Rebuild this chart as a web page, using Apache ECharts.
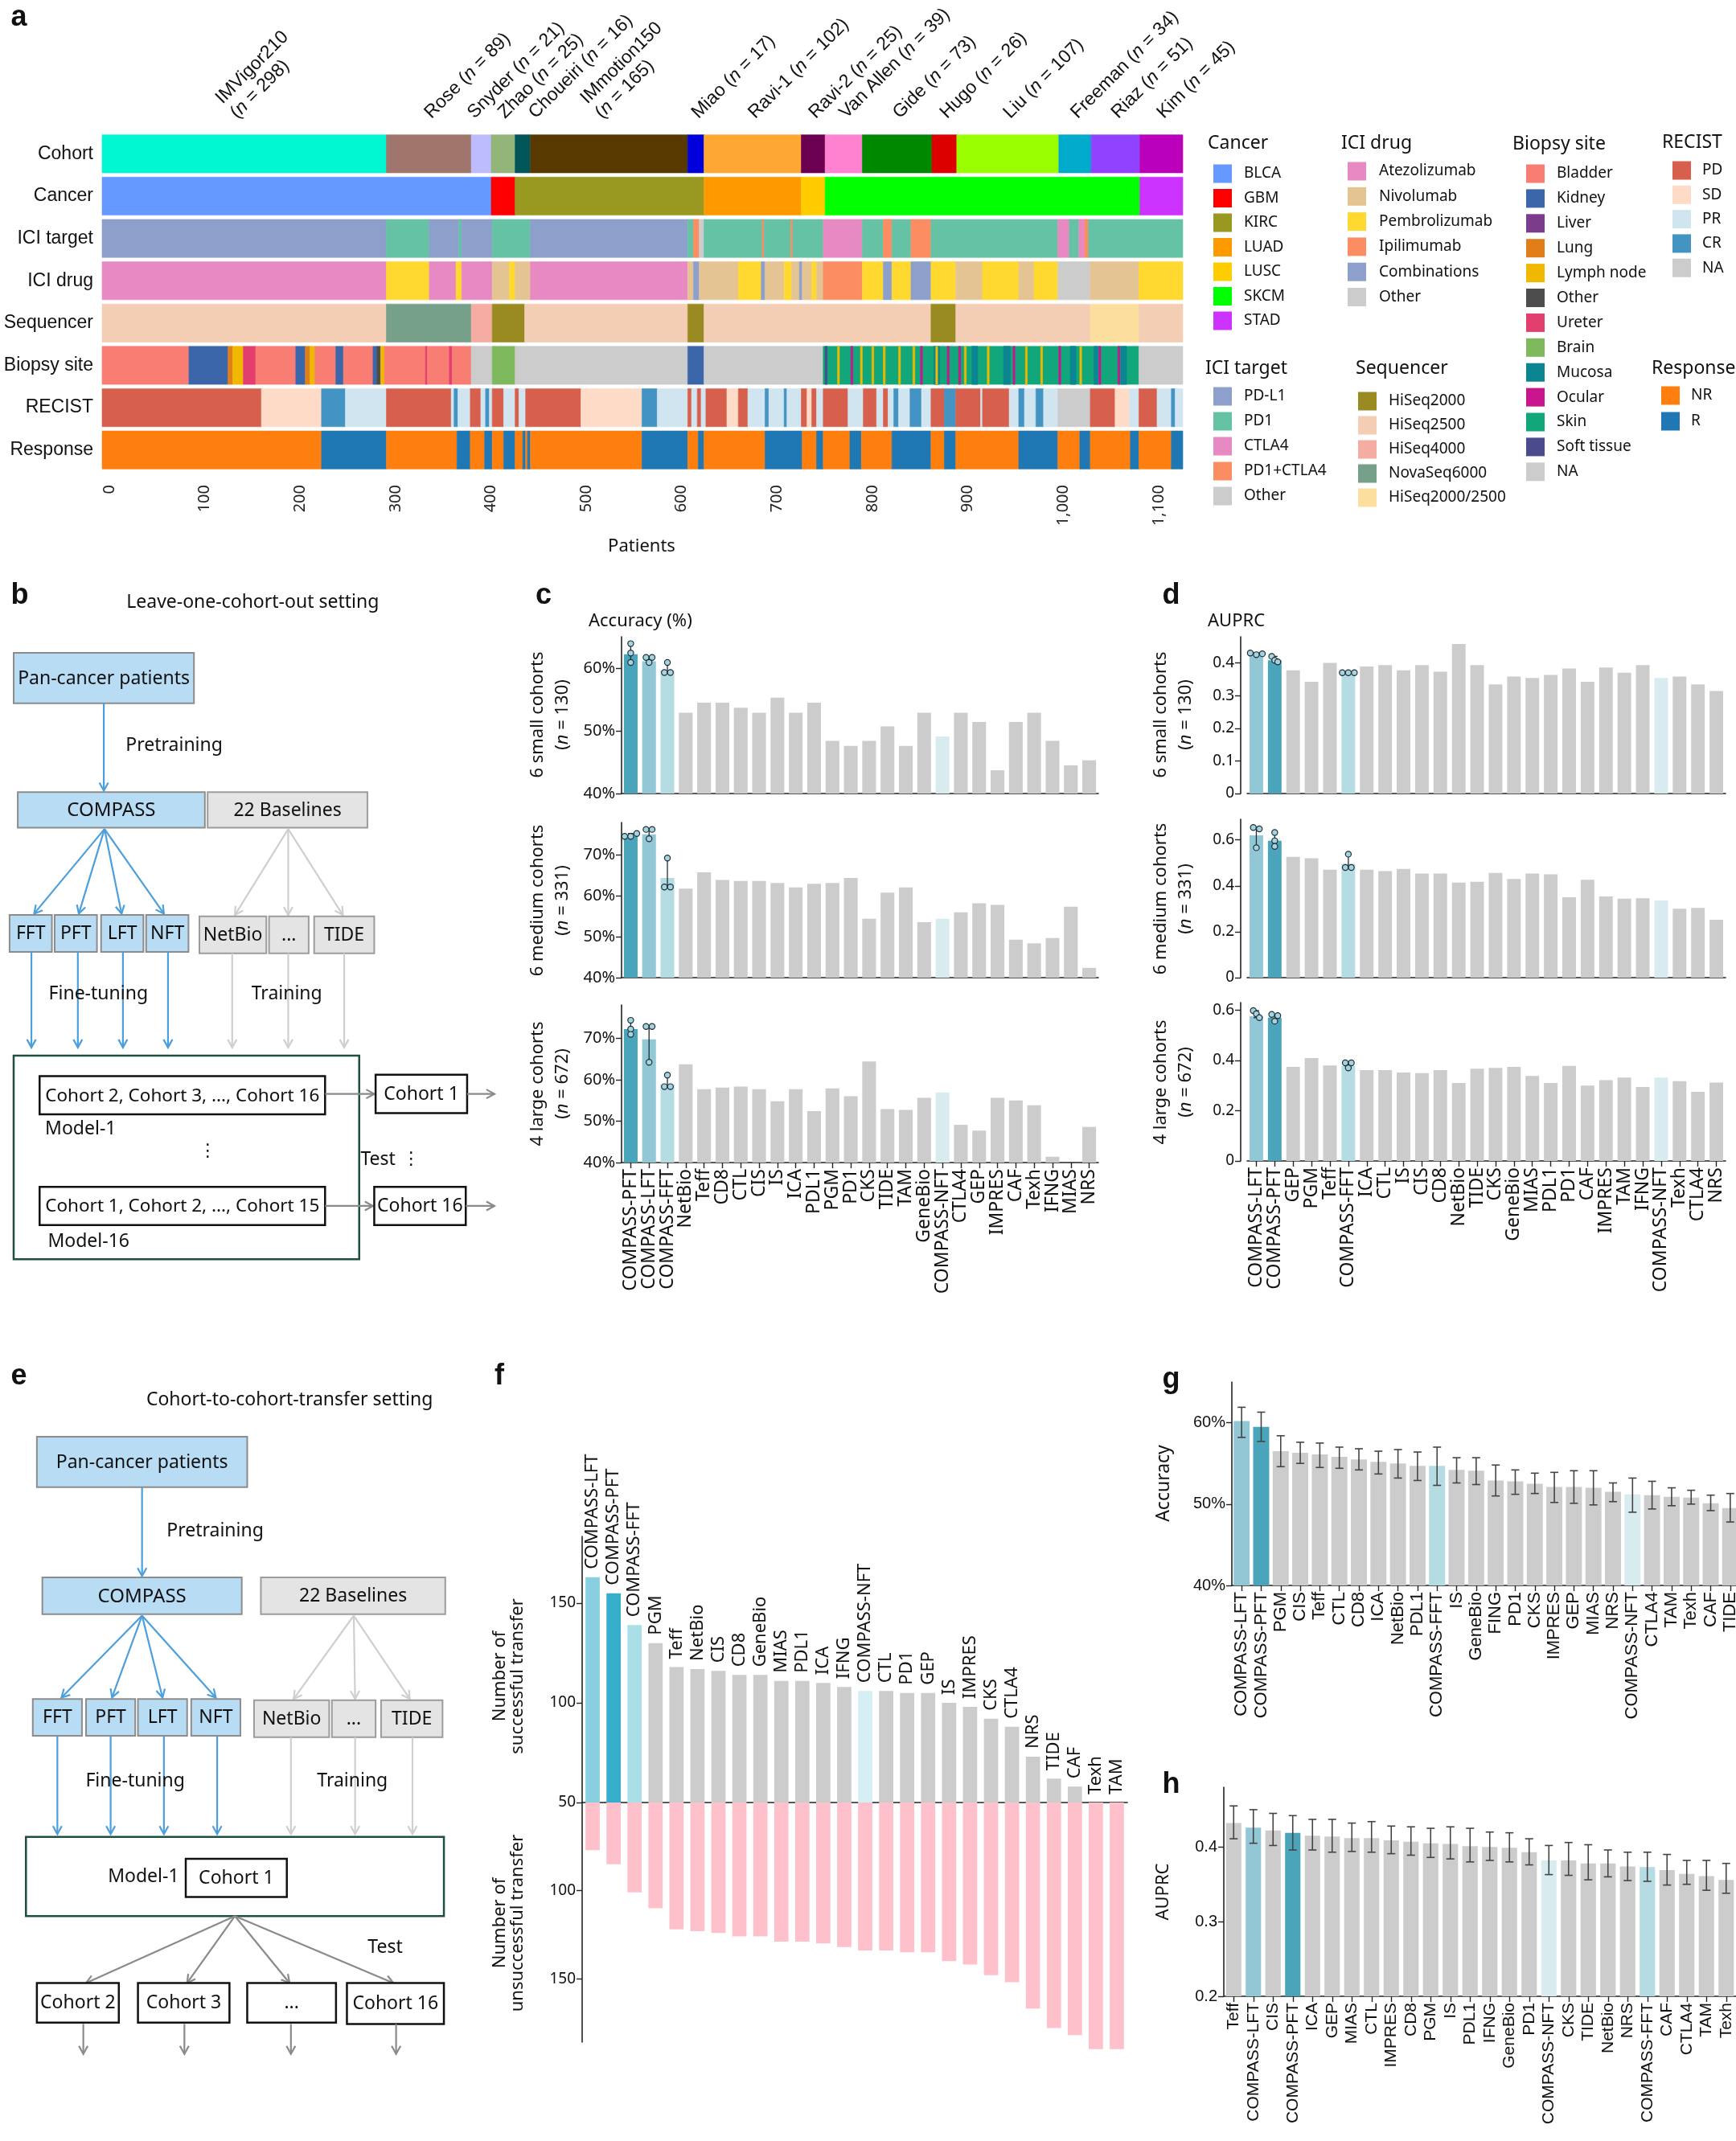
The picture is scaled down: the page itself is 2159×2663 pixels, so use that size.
<!DOCTYPE html>
<html><head><meta charset="utf-8"><title>COMPASS figure</title>
<script src="https://cdn.jsdelivr.net/npm/echarts@6/dist/echarts.min.js"></script>
<style>html,body{margin:0;padding:0;background:#fff;}#chart{width:2159px;height:2663px;}</style>
</head><body><div id="chart"></div>
<script>
// ================= DATA =================
const heatRows = ['Cohort','Cancer','ICI target','ICI drug','Sequencer','Biopsy site','RECIST','Response'];
const cohortNames = ['IMVigor210','Rose','Snyder','Zhao','Choueiri','IMmotion150','Miao','Ravi-1','Ravi-2','Van Allen','Gide','Hugo','Liu','Freeman','Riaz','Kim'];
const cohortSizes = [298,89,21,25,16,165,17,102,25,39,73,26,107,34,51,45];
const patientTicks = [0,100,200,300,400,500,600,700,800,900,1000,1100];

const cancerTypes = ['BLCA','GBM','KIRC','LUAD','LUSC','SKCM','STAD'];
const targetTypes = ['PD-L1','PD1','CTLA4','PD1+CTLA4','Other'];
const drugTypes = ['Atezolizumab','Nivolumab','Pembrolizumab','Ipilimumab','Combinations','Other'];
const seqTypes = ['HiSeq2000','HiSeq2500','HiSeq4000','NovaSeq6000','HiSeq2000/2500'];
const biopsyTypes = ['Bladder','Kidney','Liver','Lung','Lymph node','Other','Ureter','Brain','Mucosa','Ocular','Skin','Soft tissue','NA'];
const recistTypes = ['PD','SD','PR','CR','NA'];
const responseTypes = ['NR','R'];

// segments: [start patient, end patient, category]
const cancerSegs = [[0,408,'BLCA'],[408,433,'GBM'],[433,631,'KIRC'],[631,733,'LUAD'],[733,758,'LUSC'],[758,1088,'SKCM'],[1088,1133,'STAD']];
const targetSegs = [[0,298,'PD-L1'],[298,343,'PD1'],[343,374,'PD-L1'],[374,377,'PD1'],[377,409,'PD-L1'],[409,449,'PD1'],[449,614,'PD-L1'],
 [614,620,'PD1'],[620,626,'PD1+CTLA4'],[626,631,'Other'],[631,692,'PD1'],[692,694,'PD1+CTLA4'],[694,722,'PD1'],[722,724,'PD1+CTLA4'],[724,756,'PD1'],
 [756,797,'CTLA4'],[797,819,'PD1'],[819,828,'PD1+CTLA4'],[828,848,'PD1'],[848,869,'PD1+CTLA4'],[869,1002,'PD1'],[1002,1014,'CTLA4'],[1014,1024,'PD1'],
 [1024,1030,'CTLA4'],[1030,1034,'PD1+CTLA4'],[1034,1133,'PD1']];
const drugSegs = [[0,298,'Atezolizumab'],[298,343,'Pembrolizumab'],[343,371,'Atezolizumab'],[371,377,'Pembrolizumab'],[377,409,'Atezolizumab'],
 [409,427,'Nivolumab'],[427,433,'Pembrolizumab'],[433,449,'Nivolumab'],[449,614,'Atezolizumab'],[614,620,'Nivolumab'],[620,626,'Combinations'],
 [626,667,'Nivolumab'],[667,691,'Pembrolizumab'],[691,695,'Combinations'],[695,715,'Nivolumab'],[715,723,'Pembrolizumab'],[723,731,'Nivolumab'],
 [731,734,'Combinations'],[734,744,'Nivolumab'],[744,749,'Pembrolizumab'],[749,756,'Nivolumab'],[756,797,'Ipilimumab'],[797,819,'Pembrolizumab'],
 [819,828,'Combinations'],[828,848,'Pembrolizumab'],[848,869,'Combinations'],[869,895,'Pembrolizumab'],[895,923,'Nivolumab'],[923,961,'Pembrolizumab'],
 [961,977,'Nivolumab'],[977,1002,'Pembrolizumab'],[1002,1036,'Other'],[1036,1087,'Nivolumab'],[1087,1133,'Pembrolizumab']];
const seqSegs = [[0,298,'HiSeq2500'],[298,387,'NovaSeq6000'],[387,409,'HiSeq4000'],[409,443,'HiSeq2000'],[443,614,'HiSeq2500'],[614,631,'HiSeq2000'],
 [631,869,'HiSeq2500'],[869,895,'HiSeq2000'],[895,1036,'HiSeq2500'],[1036,1087,'HiSeq2000/2500'],[1087,1133,'HiSeq2500']];
const biopsySegs = [[0,91,'Bladder'],[91,132,'Kidney'],[132,137,'Lung'],[137,148,'Lymph node'],[148,161,'Ureter'],[161,203,'Bladder'],[203,213,'Kidney'],
 [213,218,'Lung'],[218,223,'Lymph node'],[223,245,'Bladder'],[245,253,'Kidney'],[253,284,'Bladder'],[284,288,'Kidney'],[288,292,'Other'],[292,296,'Lymph node'],
 [296,339,'Bladder'],[339,341,'Ureter'],[341,364,'Bladder'],[364,367,'Ureter'],[367,387,'Bladder'],[387,409,'NA'],[409,433,'Brain'],[433,614,'NA'],
 [614,631,'Kidney'],[631,756,'NA'],[756,1087,'Skin'],[1087,1133,'NA'],
 [758,760,'Soft tissue'],[771,773,'Lymph node'],[785,787,'Ocular'],[795,797,'Lymph node'],[807,809,'Lymph node'],[819,821,'Lymph node'],[835,837,'Lymph node'],
 [850,852,'Lymph node'],[858,860,'Ocular'],[872,878,'Mucosa'],[874,876,'Lymph node'],[886,888,'Ocular'],[898,900,'Ocular'],[904,906,'Lymph node'],
 [912,918,'Mucosa'],[928,930,'Lymph node'],[945,952,'Mucosa'],[955,957,'Ocular'],[968,970,'Lymph node'],[984,986,'Lymph node'],[1003,1005,'Ocular'],
 [1015,1021,'Mucosa'],[1025,1027,'Lymph node'],[1040,1044,'Mucosa'],[1045,1047,'Ocular'],[1065,1067,'Ocular'],[1068,1074,'Mucosa']];
const recistSegs = [[0,167,'PD'],[167,230,'SD'],[230,255,'CR'],[255,298,'PR'],[298,366,'PD'],[366,369,'PR'],[369,373,'CR'],[373,386,'PR'],[386,397,'PD'],
 [397,402,'PR'],[402,406,'CR'],[406,409,'PR'],[409,421,'PD'],[421,433,'PR'],[433,437,'PD'],[437,444,'PR'],[444,502,'PD'],[502,566,'SD'],[566,582,'CR'],
 [582,614,'PR'],[614,618,'PD'],[618,624,'PR'],[624,628,'PD'],[628,633,'PR'],[633,655,'PD'],[655,667,'SD'],[667,677,'PD'],[677,695,'PR'],[695,699,'CR'],
 [699,715,'PR'],[715,718,'CR'],[718,733,'PR'],[733,739,'PD'],[739,744,'SD'],[744,749,'PD'],[749,756,'PR'],[756,782,'PD'],[782,798,'PR'],[798,812,'PD'],
 [812,819,'PR'],[819,824,'PD'],[824,830,'PR'],[830,835,'CR'],[835,847,'PR'],[847,859,'CR'],[859,869,'PR'],[869,883,'PD'],[883,895,'CR'],[895,921,'PD'],
 [921,923,'PR'],[923,951,'PD'],[951,961,'PR'],[961,967,'CR'],[967,979,'PR'],[979,987,'CR'],[987,1002,'PR'],[1002,1036,'NA'],[1036,1062,'PD'],
 [1062,1077,'SD'],[1077,1087,'PR'],[1087,1106,'PD'],[1106,1121,'PR'],[1121,1125,'CR'],[1125,1133,'PR']];
const responseSegs = [[0,230,'NR'],[230,298,'R'],[298,372,'NR'],[372,386,'R'],[386,401,'NR'],[401,409,'R'],[409,421,'NR'],[421,433,'R'],[433,441,'NR'],
 [441,444,'R'],[444,446,'NR'],[446,449,'R'],[449,566,'NR'],[566,614,'R'],[614,625,'NR'],[625,631,'R'],[631,695,'NR'],[695,734,'R'],[734,749,'NR'],
 [749,756,'R'],[756,784,'NR'],[784,796,'R'],[796,828,'NR'],[828,869,'R'],[869,883,'NR'],[883,895,'R'],[895,961,'NR'],[961,1002,'R'],[1002,1025,'NR'],
 [1025,1036,'R'],[1036,1078,'NR'],[1078,1087,'R'],[1087,1121,'NR'],[1121,1133,'R']];

// panel c
const catsC = ['COMPASS-PFT','COMPASS-LFT','COMPASS-FFT','NetBio','Teff','CD8','CTL','CIS','IS','ICA','PDL1','PGM','PD1','CKS','TIDE','TAM','GeneBio','COMPASS-NFT','CTLA4','GEP','IMPRES','CAF','Texh','IFNG','MIAS','NRS'];
const accSmall  = [62.2,61.1,59.6,52.9,54.5,54.5,53.7,52.9,55.3,52.9,54.5,48.4,47.6,48.4,50.7,47.6,52.9,49.1,52.9,51.4,43.7,51.4,52.9,48.4,44.5,45.3];
const accMedium = [74.6,75.1,64.4,61.8,65.8,63.9,63.7,63.7,63.2,62.1,63.0,63.2,64.4,54.4,60.8,62.1,53.6,54.4,56.0,58.2,57.8,49.3,48.4,49.7,57.4,42.4];
const accLarge  = [72.2,69.7,58.9,63.7,57.7,58.1,58.3,57.7,54.8,57.7,52.4,57.9,56.0,64.4,52.9,52.7,55.6,56.9,49.1,47.7,55.6,55.0,53.8,41.4,40.0,48.6];
const accSmallDots  = {'COMPASS-PFT':[63.9,62.4,60.9],'COMPASS-LFT':[61.7,61.7,60.9],'COMPASS-FFT':[60.9,59.3,59.3]};
const accMediumDots = {'COMPASS-PFT':[74.6,74.6,75.3],'COMPASS-LFT':[76.3,76.3,74.0],'COMPASS-FFT':[69.3,62.2,62.2]};
const accLargeDots  = {'COMPASS-PFT':[74.3,72.2,70.9],'COMPASS-LFT':[72.8,72.8,64.2],'COMPASS-FFT':[61.1,58.3,58.3]};

// panel d
const catsD = ['COMPASS-LFT','COMPASS-PFT','GEP','PGM','Teff','COMPASS-FFT','ICA','CTL','IS','CIS','CD8','NetBio','TIDE','CKS','GeneBio','MIAS','PDL1','PD1','CAF','IMPRES','TAM','IFNG','COMPASS-NFT','Texh','CTLA4','NRS'];
const aucSmall  = [0.425,0.408,0.377,0.342,0.400,0.370,0.389,0.393,0.377,0.393,0.373,0.458,0.393,0.334,0.358,0.354,0.363,0.383,0.342,0.386,0.370,0.393,0.354,0.358,0.334,0.314];
const aucMedium = [0.620,0.596,0.526,0.520,0.470,0.496,0.470,0.464,0.474,0.454,0.454,0.414,0.418,0.456,0.430,0.454,0.450,0.350,0.426,0.354,0.344,0.346,0.336,0.300,0.304,0.252];
const aucLarge  = [0.576,0.570,0.374,0.409,0.380,0.378,0.361,0.361,0.352,0.349,0.361,0.310,0.367,0.370,0.374,0.338,0.310,0.378,0.300,0.321,0.332,0.294,0.332,0.317,0.275,0.312];
const aucSmallDots  = {'COMPASS-LFT':[0.430,0.425,0.428],'COMPASS-PFT':[0.420,0.408,0.403],'COMPASS-FFT':[0.370,0.370,0.370]};
const aucMediumDots = {'COMPASS-LFT':[0.654,0.648,0.566],'COMPASS-PFT':[0.632,0.596,0.572],'COMPASS-FFT':[0.538,0.480,0.480]};
const aucLargeDots  = {'COMPASS-LFT':[0.598,0.585,0.570],'COMPASS-PFT':[0.583,0.578,0.556],'COMPASS-FFT':[0.390,0.390,0.370]};

// panel f
const catsF = ['COMPASS-LFT','COMPASS-PFT','COMPASS-FFT','PGM','Teff','NetBio','CIS','CD8','GeneBio','MIAS','PDL1','ICA','IFNG','COMPASS-NFT','CTL','PD1','GEP','IS','IMPRES','CKS','CTLA4','NRS','TIDE','CAF','Texh','TAM'];
const successF = [163,155,139,130,118,117,116,114,114,111,111,110,108,106,106,105,105,100,98,92,88,73,62,58,50,50];
const failF    = [77,85,101,110,122,123,124,126,126,129,129,130,132,134,134,135,135,140,142,148,152,167,178,182,190,190];

// panel g
const catsG = ['COMPASS-LFT','COMPASS-PFT','PGM','CIS','Teff','CTL','CD8','ICA','NetBio','PDL1','COMPASS-FFT','IS','GeneBio','FING','PD1','CKS','IMPRES','GEP','MIAS','NRS','COMPASS-NFT','CTLA4','TAM','Texh','CAF','TIDE'];
const accG     = [60.2,59.5,56.5,56.3,56.1,55.8,55.5,55.2,55.0,54.7,54.7,54.2,54.1,52.9,52.8,52.5,52.1,52.1,52.0,51.5,51.2,51.1,50.9,50.8,50.1,49.5];
const accGLow  = [58.2,57.7,54.6,55.0,54.5,54.4,54.2,53.7,53.2,52.9,52.3,52.6,52.4,51.0,51.2,51.3,50.2,50.1,49.9,50.3,49.0,49.4,49.8,50.0,49.2,47.8];
const accGHigh = [61.9,61.3,58.4,57.6,57.5,57.0,56.8,56.5,56.7,56.4,57.0,55.7,55.7,54.8,54.2,53.8,53.9,54.1,54.1,52.6,53.2,52.8,52.0,51.7,51.1,51.3];

// panel h
const catsH = ['Teff','COMPASS-LFT','CIS','COMPASS-PFT','ICA','GEP','MIAS','CTL','IMPRES','CD8','PGM','IS','PDL1','IFNG','GeneBio','PD1','COMPASS-NFT','CKS','TIDE','NetBio','NRS','COMPASS-FFT','CAF','CTLA4','TAM','Texh'];
const aucH     = [0.432,0.426,0.422,0.419,0.415,0.414,0.412,0.412,0.409,0.407,0.405,0.404,0.401,0.400,0.399,0.393,0.382,0.382,0.378,0.378,0.374,0.373,0.369,0.364,0.361,0.356];
const aucHLow  = [0.411,0.405,0.402,0.396,0.396,0.393,0.394,0.393,0.391,0.389,0.386,0.384,0.380,0.382,0.380,0.376,0.363,0.362,0.356,0.360,0.355,0.354,0.349,0.350,0.342,0.338];
const aucHHigh = [0.455,0.450,0.445,0.442,0.437,0.437,0.432,0.434,0.428,0.427,0.425,0.427,0.425,0.420,0.419,0.411,0.402,0.406,0.403,0.396,0.393,0.393,0.390,0.382,0.382,0.378];

// ================= STYLES =================
const FONT = 'Noto Sans', HELV = 'Liberation Sans';
const cohortColors = ['#00f7d1','#a0766c','#bcbcff','#93b57a','#005659','#583a00','#0000dd','#ffa733','#6b0050','#ff82d1','#008800','#dd0000','#99ff00','#00aacb','#9042ff','#bb00bb'];
const palCancer = {BLCA:'#6699ff',GBM:'#ff0000',KIRC:'#999922',LUAD:'#ff9900',LUSC:'#ffcc00',SKCM:'#00ff00',STAD:'#cc33ff'};
const palTarget = {'PD-L1':'#8da0cb','PD1':'#66c2a5','CTLA4':'#e78ac3','PD1+CTLA4':'#fc8d62','Other':'#cccccc'};
const palDrug = {Atezolizumab:'#e78ac3',Nivolumab:'#e5c494',Pembrolizumab:'#ffd92f',Ipilimumab:'#fc8d62',Combinations:'#8da0cb',Other:'#cccccc'};
const palSeq = {HiSeq2000:'#998b22',HiSeq2500:'#f3cdb4',HiSeq4000:'#f5aca2',NovaSeq6000:'#76a08a','HiSeq2000/2500':'#fcdf9e'};
const palBiopsy = {Bladder:'#f87e74',Kidney:'#3b66aa',Liver:'#7b3c8c',Lung:'#e07f1a','Lymph node':'#f0b800',Other:'#4d4d4d',Ureter:'#e33f6e',Brain:'#7fb95e',Mucosa:'#0a8591',Ocular:'#c9168f',Skin:'#12a77a','Soft tissue':'#4a4a8c',NA:'#cccccc'};
const palRecist = {PD:'#d6604d',SD:'#fddbc7',PR:'#d1e5f0',CR:'#4393c3',NA:'#cccccc'};
const palResp = {NR:'#ff7f0e',R:'#1f77b4'};
const GRAY = '#cccccc';
const palBars = {'COMPASS-PFT':'#4aa5ba','COMPASS-LFT':'#92c8d5','COMPASS-FFT':'#b5dce3','COMPASS-NFT':'#d8ecef'};
const palBarsF = {'COMPASS-PFT':'#36aecb','COMPASS-LFT':'#88cfe1','COMPASS-FFT':'#abdfe8','COMPASS-NFT':'#d5eff4'};
const PINK = '#fec1cc';

// ================= HEAT DATA =================
const heatData = [];
let acc = 0;
cohortSizes.forEach((n,i)=>{ heatData.push({value:[acc, acc+n, 0], itemStyle:{color:cohortColors[i]}}); acc += n; });
const cohortCenters = []; acc = 0;
cohortSizes.forEach(n=>{ cohortCenters.push(acc + n/2); acc += n; });
function addRow(r, segs, pal){ segs.forEach(s=>heatData.push({value:[s[0], s[1], r], itemStyle:{color:pal[s[2]]}})); }
addRow(1, cancerSegs, palCancer); addRow(2, targetSegs, palTarget); addRow(3, drugSegs, palDrug);
addRow(4, seqSegs, palSeq); addRow(5, biopsySegs, palBiopsy); addRow(6, recistSegs, palRecist); addRow(7, responseSegs, palResp);

function heatRender(params, api){
  const p0 = api.coord([api.value(0), api.value(2)]);
  const p1 = api.coord([api.value(1), api.value(2)]);
  const h = api.size([0,1])[1]*0.9;
  const c = api.visual('color');
  return {type:'rect', shape:{x:p0[0], y:p0[1]-h/2, width:p1[0]-p0[0], height:h}, style:{fill:c, stroke:c, lineWidth:0.6}};
}
const richA = {fontSize:23, fontFamily:HELV, fill:'#111', lineHeight:26};
const richI = {fontSize:23, fontFamily:HELV, fontStyle:'italic', fill:'#111', lineHeight:26};
// simple label repel: spread crowded label anchors to a minimum spacing (pixels)
let labelX = null;
function computeLabelX(api){
  const xs = cohortCenters.map((c,i)=>api.coord([c,0])[0] + 8 - (cohortNames[i].indexOf('IM')===0 ? 12 : 0));
  const D = 38;
  for (let it=0; it<80; it++){
    for (let i=0; i<xs.length-1; i++){
      const d = xs[i+1]-xs[i];
      if (d < D){ const s=(D-d)/2; xs[i]-=s; xs[i+1]+=s; }
    }
  }
  return xs;
}
function cohortLabelRender(params, api){
  const i = params.dataIndex;
  if (!labelX) labelX = computeLabelX(api);
  const pt = api.coord([api.value(0), 0]);
  const band = api.size([0,1])[1];
  const name = cohortNames[i], n = cohortSizes[i];
  const two = name.indexOf('IM') === 0;
  const txt = two ? `{a|${name}}\n{a|(}{i|n}{a| = ${n})}` : `{a|${name} (}{i|n}{a| = ${n})}`;
  return {type:'text', x: labelX[i], y: pt[1] - band/2 - 12, rotation: Math.PI/4,
    style:{text: txt, rich:{a:richA, i:richI}, align:'left', verticalAlign:'bottom'}};
}

// ================= SERIES HELPERS =================
function barSeries(ai, cats, vals, pal, gap, extra){
  return Object.assign({type:'bar', xAxisIndex:ai, yAxisIndex:ai, barCategoryGap:gap, silent:true,
    data: vals.map((v,i)=>({value:v, itemStyle:{color: pal[cats[i]] || GRAY}}))}, extra||{});
}
function dotsRender(params, api){
  const ci = api.value(0);
  const ys = [1,2,3].map(d=>api.coord([ci, api.value(d)])[1]);
  const x = api.coord([ci, api.value(1)])[0];
  const ymin = Math.min(...ys), ymax = Math.max(...ys);
  const st = {stroke:'#1e2e38', lineWidth:1.3};
  const ch = [
    {type:'line', shape:{x1:x,y1:ymin,x2:x,y2:ymax}, style:st},
    {type:'line', shape:{x1:x-3.5,y1:ymin,x2:x+3.5,y2:ymin}, style:st},
    {type:'line', shape:{x1:x-3.5,y1:ymax,x2:x+3.5,y2:ymax}, style:st}];
  ys.forEach((y,i)=>{
    const grp = ys.filter(o=>Math.abs(o-y)<5).length;
    const k = ys.slice(0,i).filter(o=>Math.abs(o-y)<5).length;
    const off = (k-(grp-1)/2)*7.5;
    ch.push({type:'circle', shape:{cx:x+off, cy:y, r:3.6}, style:{fill:'#a6d3de', stroke:'#1e2e38', lineWidth:1.2}});
  });
  return {type:'group', children:ch};
}
function dotsSeries(ai, dots){
  return {type:'custom', xAxisIndex:ai, yAxisIndex:ai, renderItem:dotsRender, z:5, silent:true,
    encode:{x:0, y:[1,2,3]}, data: Object.keys(dots).map(k=>[k].concat(dots[k]))};
}
function errRender(params, api){
  const ci = api.value(0);
  const lo = api.coord([ci, api.value(1)]), hi = api.coord([ci, api.value(2)]);
  const x = lo[0], w = 5, st = {stroke:'#444', lineWidth:1.6};
  return {type:'group', children:[
    {type:'line', shape:{x1:x,y1:lo[1],x2:x,y2:hi[1]}, style:st},
    {type:'line', shape:{x1:x-w,y1:lo[1],x2:x+w,y2:lo[1]}, style:st},
    {type:'line', shape:{x1:x-w,y1:hi[1],x2:x+w,y2:hi[1]}, style:st}]};
}
function errSeries(ai, cats, lo, hi){
  return {type:'custom', xAxisIndex:ai, yAxisIndex:ai, renderItem:errRender, z:5, silent:true,
    encode:{x:0, y:[1,2]}, data: cats.map((c,i)=>[c, lo[i], hi[i]])};
}

// ================= AXES =================
const AX = {color:'#222', width:1.6};
function xCat(gi, data, show, o){
  o = o||{};
  return {type:'category', gridIndex:gi, data, boundaryGap:true, position:o.position||'bottom',
    axisLine:{show: o.line!==false, lineStyle:AX},
    axisTick:{show:show, alignWithLabel:true, length:7, lineStyle:{color:'#222', width:1.4}},
    axisLabel:{show:show, rotate:90, interval:0, fontSize:o.fs||22, fontFamily:o.font||FONT, color:'#111', margin:8},
    splitLine:{show:false}};
}
function yVal(gi, min, max, ticks, fmt, o){
  o = o||{};
  return {type:'value', gridIndex:gi, min, max, inverse:!!o.inverse, offset:o.offset||0, startValue:min,
    axisLine:{show:true, lineStyle:AX},
    axisTick:{show:true, length:7, customValues:ticks, lineStyle:{color:'#222', width:1.4}},
    axisLabel:{show:true, customValues:ticks, formatter:fmt, fontSize:o.fs||20, fontFamily:o.font||FONT, color:'#111', margin:8},
    splitLine:{show:false}};
}
const pct = v => v + '%';
const dec = v => (v === 0 ? '0' : String(v));

const grids = [
 {left:127, top:165, width:1344, height:421},
 {left:773, top:792, width:593, height:195},
 {left:773, top:1023, width:593, height:193},
 {left:773, top:1250, width:593, height:196},
 {left:1551, top:792, width:595, height:195},
 {left:1551, top:1019, width:595, height:197},
 {left:1551, top:1247, width:595, height:197},
 {left:724, top:1911, width:678, height:331},
 {left:724, top:2242, width:678, height:298},
 {left:1532, top:1719, width:632, height:253},
 {left:1522, top:2223, width:637, height:260}
].map(g=>Object.assign({containLabel:false, outerBoundsMode:'none'}, g));

const xAxes = [
 {type:'value', gridIndex:0, min:0, max:1133,
  axisLine:{show:false}, axisTick:{show:false}, splitLine:{show:false},
  axisLabel:{show:true, customValues:patientTicks, rotate:90, margin:17, fontSize:20, fontFamily:FONT, color:'#222',
    verticalAlign:'top', lineHeight:18, formatter: v => v.toLocaleString('en-US')}},
 xCat(1, catsC, false), xCat(2, catsC, false), xCat(3, catsC, true, {fs:23}),
 xCat(4, catsD, false), xCat(5, catsD, false), xCat(6, catsD, true, {fs:23}),
 xCat(7, catsF, false), xCat(8, catsF, false, {line:false, position:'top'}),
 xCat(9, catsG, true, {fs:22, font:HELV}), xCat(10, catsH, true, {fs:21, font:HELV})
];
const yAxes = [
 {type:'category', gridIndex:0, data:heatRows, inverse:true, axisLine:{show:false}, axisTick:{show:false},
  axisLabel:{fontSize:23, fontFamily:HELV, color:'#111', margin:11}},
 yVal(1, 40, 65, [40,50,60], pct), yVal(2, 40, 78, [40,50,60,70], pct), yVal(3, 40, 78, [40,50,60,70], pct),
 yVal(4, 0, 0.48, [0,0.1,0.2,0.3,0.4], dec, {offset:8, fs:19}), yVal(5, 0, 0.69, [0,0.2,0.4,0.6], dec, {offset:8, fs:19}),
 yVal(6, 0, 0.63, [0,0.2,0.4,0.6], dec, {offset:8, fs:19}),
 yVal(7, 50, 183.5, [50,100,150], null, {fs:19}), yVal(8, 50, 186, [100,150], null, {inverse:true, fs:19}),
 yVal(9, 40, 65, [40,50,60], pct, {font:HELV, fs:20}), yVal(10, 0.2, 0.48, [0.2,0.3,0.4], dec, {font:HELV, fs:20})
];
yAxes[7].axisLabel.formatter = v=>String(v); yAxes[8].axisLabel.formatter = v=>String(v);

// ================= SERIES =================
const series = [
 {type:'custom', xAxisIndex:0, yAxisIndex:0, renderItem:heatRender, encode:{x:[0,1], y:2}, data:heatData, silent:true},
 {type:'custom', xAxisIndex:0, yAxisIndex:0, renderItem:cohortLabelRender, encode:{x:0, y:1}, data:cohortCenters.map(c=>[c,0]), silent:true, clip:false},
 barSeries(1, catsC, accSmall, palBars, '25%'), dotsSeries(1, accSmallDots),
 barSeries(2, catsC, accMedium, palBars, '25%'), dotsSeries(2, accMediumDots),
 barSeries(3, catsC, accLarge, palBars, '25%'), dotsSeries(3, accLargeDots),
 barSeries(4, catsD, aucSmall, palBars, '26%'), dotsSeries(4, aucSmallDots),
 barSeries(5, catsD, aucMedium, palBars, '26%'), dotsSeries(5, aucMediumDots),
 barSeries(6, catsD, aucLarge, palBars, '26%'), dotsSeries(6, aucLargeDots),
 barSeries(7, catsF, successF, palBarsF, '32%', {clip:false,
   label:{show:true, position:'top', rotate:90, align:'left', verticalAlign:'middle', distance:10,
     formatter:p=>p.name, fontSize:22, fontFamily:FONT, color:'#111'}}),
 {type:'bar', xAxisIndex:8, yAxisIndex:8, barCategoryGap:'32%', clip:false, silent:true,
   data: failF.map(v=>({value:v, itemStyle:{color:PINK}}))},
 barSeries(9, catsG, accG, palBars, '18%'), errSeries(9, catsG, accGLow, accGHigh),
 barSeries(10, catsH, aucH, palBars, '22%'), errSeries(10, catsH, aucHLow, aucHHigh)
];

// ================= GRAPHIC (diagrams, legends, titles) =================
const S = 2159/1271;
const G = [];
const DS = 23; // diagram font size
function txtEl(x, y, text, o){
  o = o||{};
  const el = {type:'text', x, y, silent:true, rotation:o.rot||0,
    style:{text, fontSize:o.size||DS, fontFamily:o.font||FONT, fontWeight:o.weight||'normal', fill:o.color||'#111',
      align:o.align||'center', verticalAlign:o.valign||'middle', textAlign:o.align||'center', textVerticalAlign:o.valign||'middle'}};
  if (o.rich) el.style.rich = o.rich;
  G.push(el);
}
function T(x, y, text, o){ txtEl(x*S, y*S, text, o); }
function R(x1,y1,x2,y2,fill,stroke,lw){
  G.push({type:'rect', silent:true, shape:{x:x1*S, y:y1*S, width:(x2-x1)*S, height:(y2-y1)*S},
    style:{fill:fill||'none', stroke:stroke||'#888', lineWidth:lw||2}});
}
function A(x1,y1,x2,y2,color,lw){
  x1*=S; y1*=S; x2*=S; y2*=S;
  const ang = Math.atan2(y2-y1, x2-x1), L = 10, W = 5.5;
  const bx = x2 - L*Math.cos(ang), by = y2 - L*Math.sin(ang);
  G.push({type:'line', silent:true, shape:{x1, y1, x2, y2}, style:{stroke:color, lineWidth:lw||2.2}});
  G.push({type:'polyline', silent:true, shape:{points:[[bx+W*Math.sin(ang), by-W*Math.cos(ang)],[x2,y2],[bx-W*Math.sin(ang), by+W*Math.cos(ang)]]},
    style:{stroke:color, lineWidth:lw||2.2, fill:'none'}});
}
const BLUE = '#4c9fdc', LGRAY = '#cfcfcf', TGRAY = '#8a8a8a', BBOX = '#b9dcf5', GBOX = '#e4e4e4', DGREEN = '#1f4f3f';
const boxText = (x1,y1,x2,y2,t,fill,stroke,size) => { R(x1,y1,x2,y2,fill,stroke,stroke==='#111'?2.5:2); T((x1+x2)/2,(y1+y2)/2+0.5,t,{size:size||DS}); };

// panel letters
[['a',8,13],['b',8,436],['c',392,436],['d',851,436],['e',8,1008],['f',362,1008],['g',851,1010],['h',851,1307]]
 .forEach(l=>T(l[1], l[2], l[0], {size:36, weight:'bold', font:HELV, align:'left'}));

// panel b
T(185,441,'Leave-one-cohort-out setting');
boxText(10,478,142,515,'Pan-cancer patients',BBOX,'#8c8c8c');
A(76,515,76,579,BLUE);
T(92,546,'Pretraining',{align:'left'});
boxText(13,580,150,606,'COMPASS',BBOX,'#8c8c8c',24);
boxText(152,580,269,606,'22 Baselines',GBOX,'#9c9c9c');
[25,57.7,89,120].forEach(tx=>A(76.5,607,tx,669,BLUE));
[172,211,251].forEach(tx=>A(211,607,tx,670,LGRAY));
boxText(7,670,38,697,'FFT',BBOX,'#8c8c8c'); boxText(40,670,71,697,'PFT',BBOX,'#8c8c8c');
boxText(74,670,105,697,'LFT',BBOX,'#8c8c8c'); boxText(107,670,138,697,'NFT',BBOX,'#8c8c8c');
boxText(146,671,195,698,'NetBio',GBOX,'#9c9c9c'); boxText(197,671,226,698,'...',GBOX,'#9c9c9c'); boxText(230,671,274,698,'TIDE',GBOX,'#9c9c9c');
[23,57,90,123].forEach(x=>A(x,697,x,767,BLUE));
[170,211,252].forEach(x=>A(x,698,x,767,LGRAY));
T(72,728,'Fine-tuning'); T(210,728,'Training');
R(10,773,263,922,'none',DGREEN,2.5);
boxText(29,788,238,816,'Cohort 2, Cohort 3, ..., Cohort 16','#fff','#111',22.5);
T(33,827,'Model-1',{align:'left'});
T(152,843,'⋮',{font:'DejaVu Sans',size:22});
boxText(29,869,238,897,'Cohort 1, Cohort 2, ..., Cohort 15','#fff','#111',22.5);
T(35,909,'Model-16',{align:'left'});
A(238,801,274,801,TGRAY); boxText(275,787,342,815,'Cohort 1','#fff','#111'); A(342,801,362,801,TGRAY);
T(264,849,'Test',{align:'left'}); T(301,849,'⋮',{font:'DejaVu Sans',size:22});
A(238,883,273,883,TGRAY); boxText(274,869,341,897,'Cohort 16','#fff','#111'); A(341,883,362,883,TGRAY);

// panel e
T(212,1025,'Cohort-to-cohort-transfer setting');
boxText(27,1052,181,1089,'Pan-cancer patients',BBOX,'#8c8c8c');
A(104,1089,104,1154,BLUE);
T(122,1121,'Pretraining',{align:'left'});
boxText(31,1155,177,1182,'COMPASS',BBOX,'#8c8c8c',24);
boxText(191,1155,326,1182,'22 Baselines',GBOX,'#9c9c9c');
[45,82,119,158].forEach(tx=>A(104,1183,tx,1243,BLUE));
[215,260,300].forEach(tx=>A(259,1183,tx,1244,LGRAY));
boxText(24,1244,60,1271,'FFT',BBOX,'#8c8c8c'); boxText(63,1244,99,1271,'PFT',BBOX,'#8c8c8c');
boxText(101,1244,137,1271,'LFT',BBOX,'#8c8c8c'); boxText(140,1244,176,1271,'NFT',BBOX,'#8c8c8c');
boxText(186,1245,241,1272,'NetBio',GBOX,'#9c9c9c'); boxText(243,1245,275,1272,'...',GBOX,'#9c9c9c'); boxText(279,1245,324,1272,'TIDE',GBOX,'#9c9c9c');
[42,81,120,159].forEach(x=>A(x,1271,x,1343,BLUE));
[213,260,302].forEach(x=>A(x,1272,x,1343,LGRAY));
T(99,1304,'Fine-tuning'); T(258,1304,'Training');
R(19,1345,325,1403,'none',DGREEN,2.5);
T(105,1374,'Model-1');
boxText(136,1361,210,1389,'Cohort 1','#fff','#111');
[[63,1452],[137,1452],[212,1452],[288,1452]].forEach(p=>A(172,1403,p[0],p[1],TGRAY));
T(282,1426,'Test');
boxText(27,1452,87,1481,'Cohort 2','#fff','#111'); boxText(101,1452,168,1481,'Cohort 3','#fff','#111');
boxText(181,1452,246,1481,'...','#fff','#111'); boxText(254,1452,325,1482,'Cohort 16','#fff','#111');
[61,135,213,290].forEach(x=>A(x,1482,x,1504,TGRAY));

// panel a: axis title and legends (full-pixel coordinates)
txtEl(798, 680, 'Patients', {size:22});
function legendBlock(title, tx, ty, types, pal, sqx, cy0, pitch, textx){
  txtEl(tx, ty, title, {size:23, align:'left'});
  types.forEach((t,i)=>{
    const cy = cy0 + i*pitch;
    G.push({type:'rect', silent:true, shape:{x:sqx, y:cy-11.5, width:23, height:23}, style:{fill:pal[t]}});
    txtEl(textx, cy, t, {size:19, align:'left'});
  });
}
legendBlock('Cancer', 1502, 178, cancerTypes, palCancer, 1509, 216, 30.5, 1547);
legendBlock('ICI drug', 1668, 178, drugTypes, palDrug, 1676, 213, 31.3, 1715);
legendBlock('Biopsy site', 1881, 179, biopsyTypes, palBiopsy, 1898, 216, 30.9, 1936);
legendBlock('RECIST', 2067, 177, recistTypes, palRecist, 2080, 212, 30.3, 2117);
legendBlock('ICI target', 1499, 458, targetTypes, palTarget, 1509, 493, 31, 1547);
legendBlock('Sequencer', 1686, 458, seqTypes, palSeq, 1689, 499, 30, 1727);
legendBlock('Response', 2054, 458, responseTypes, palResp, 2066, 492, 32, 2103);

// axis titles for c, d, f, g, h
const RA = {fontSize:22, fontFamily:FONT, fill:'#111', lineHeight:31};
const RI = {fontSize:22, fontFamily:FONT, fontStyle:'italic', fill:'#111', lineHeight:31};
function vName(x, y, l1, n){
  txtEl(x, y, `{a|${l1}}\n{a|(}{i|n}{a| = ${n})}`, {rot:Math.PI/2, rich:{a:RA, i:RI}});
}
txtEl(732, 773, 'Accuracy (%)', {size:22, align:'left'});
txtEl(1502, 773, 'AUPRC', {size:22, align:'left'});
vName(684, 889, '6 small cohorts', 130); vName(684, 1120, '6 medium cohorts', 331); vName(684, 1348, '4 large cohorts', 672);
vName(1459, 889, '6 small cohorts', 130); vName(1459, 1118, '6 medium cohorts', 331); vName(1459, 1346, '4 large cohorts', 672);
txtEl(633, 2085, 'Number of\nsuccessful transfer', {size:22, rot:Math.PI/2});
txtEl(633, 2392, 'Number of\nunsuccessful transfer', {size:22, rot:Math.PI/2});
txtEl(1447, 1845, 'Accuracy', {size:23, rot:Math.PI/2});
txtEl(1447, 2353, 'AUPRC', {size:22, rot:Math.PI/2});

// ================= CHART =================
const chart = echarts.init(document.getElementById('chart'), null, {renderer:'canvas'});
chart.setOption({
  animation:false, backgroundColor:'#ffffff',
  textStyle:{fontFamily:FONT},
  grid:grids, xAxis:xAxes, yAxis:yAxes, series:series,
  graphic:{elements:G}
});
</script></body></html>
